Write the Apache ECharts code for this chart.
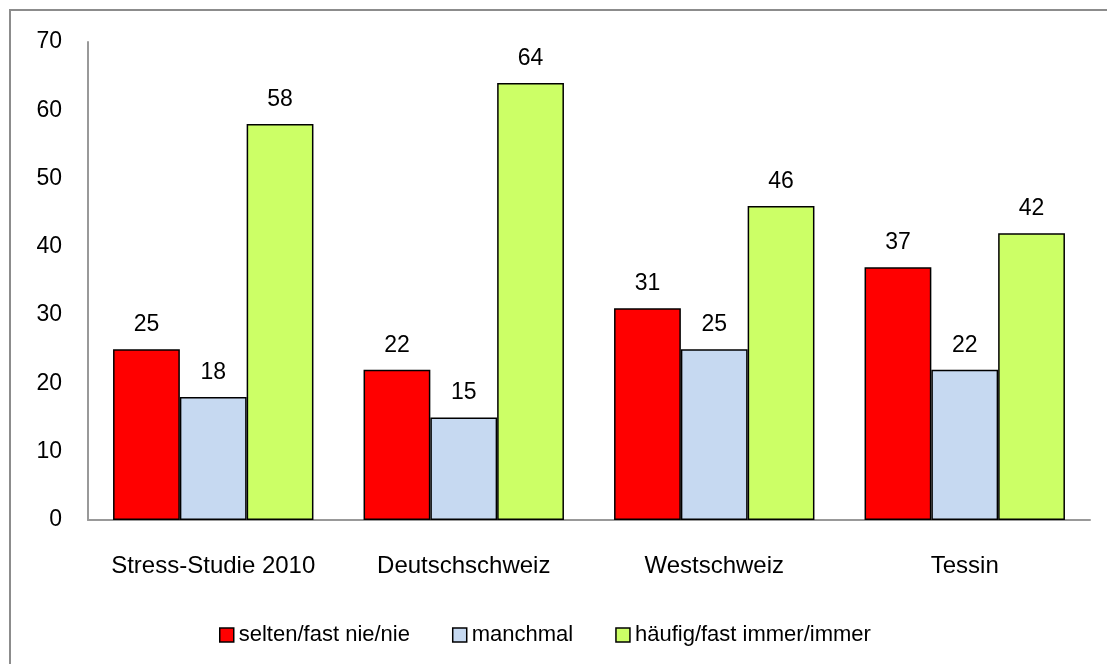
<!DOCTYPE html>
<html>
<head>
<meta charset="utf-8">
<script src="https://cdn.jsdelivr.net/npm/echarts@6/dist/echarts.min.js"></script>
<style>
  html, body { margin: 0; padding: 0; background: #fff; }
  #chart { width: 1107px; height: 664px; }
</style>
</head>
<body>
<div id="chart"></div>
<script>
  // Kategorien und Werte (in %)
  var categories = ['Stress-Studie 2010', 'Deutschschweiz', 'Westschweiz', 'Tessin'];
  var selten = [25, 22, 31, 37];
  var manchmal = [18, 15, 25, 22];
  var haeufig = [58, 64, 46, 42];
  var seriesNames = ['selten/fast nie/nie', 'manchmal', 'häufig/fast immer/immer'];

  var font = "'Liberation Sans', Arial, sans-serif";
  var myChart = echarts.init(document.getElementById('chart'));

  function bar(name, data, color) {
    return {
      name: name,
      type: 'bar',
      data: data,
      barGap: 0,
      barCategoryGap: '20%',
      itemStyle: { color: color, borderColor: '#000', borderWidth: 1.5 },
      label: {
        show: true,
        position: 'top',
        distance: 13,
        color: '#000',
        fontSize: 23,
        fontFamily: font
      }
    };
  }

  var option = {
    animation: false,
    backgroundColor: '#fff',
    textStyle: { fontFamily: font },
    graphic: [{
      type: 'rect',
      shape: { x: 10, y: 10, width: 1200, height: 700 },
      style: { fill: 'none', stroke: '#8c8c8c', lineWidth: 2 },
      silent: true
    }],
    legend: {
      bottom: 13,
      left: 214,
      itemWidth: 14,
      itemHeight: 14,
      itemGap: 42,
      textStyle: { fontSize: 22, color: '#000', fontFamily: font },
      data: seriesNames.map(function (n) {
        return { name: n, icon: 'rect', itemStyle: { borderColor: '#000', borderWidth: 1.5 } };
      })
    },
    grid: { left: 88, right: 17, top: 42, bottom: 144 },
    xAxis: {
      type: 'category',
      data: categories,
      axisLine: { lineStyle: { color: '#999', width: 2 } },
      axisTick: { show: false },
      axisLabel: { color: '#000', fontSize: 24, margin: 34, interval: 0, fontFamily: font }
    },
    yAxis: {
      type: 'value',
      min: 0,
      max: 70,
      interval: 10,
      splitLine: { show: false },
      axisLine: { show: true, lineStyle: { color: '#999', width: 2 } },
      axisTick: { show: false },
      axisLabel: { color: '#000', fontSize: 23, margin: 26, fontFamily: font }
    },
    series: [
      bar(seriesNames[0], selten, '#ff0000'),
      bar(seriesNames[1], manchmal, '#c6d9f1'),
      bar(seriesNames[2], haeufig, '#ccff66')
    ]
  };
  myChart.setOption(option);
</script>
</body>
</html>
